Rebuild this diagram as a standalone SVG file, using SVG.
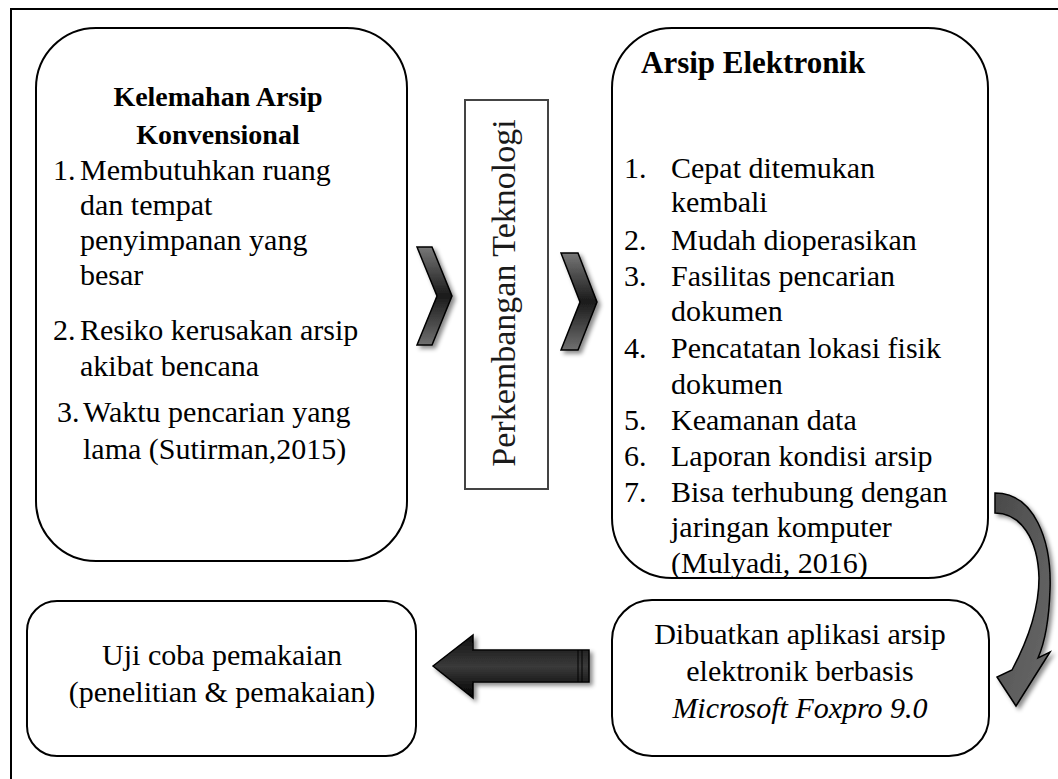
<svg xmlns="http://www.w3.org/2000/svg" width="1058" height="779" viewBox="0 0 1058 779">
<style>
.box{fill:#fff;stroke:#000;stroke-width:2}
.t{font-family:"Liberation Serif","Times New Roman",serif;font-size:30px;fill:#000}
.b{font-weight:bold;font-size:28px}
.c{text-anchor:middle}
.i{font-style:italic}
.arrow{stroke:#000;stroke-width:1.5;filter:url(#sh)}
</style>
<defs>
<filter id="sh" x="-30%" y="-30%" width="160%" height="160%">
<feDropShadow dx="3" dy="3" stdDeviation="2" flood-color="#000" flood-opacity="0.45"/>
</filter>
<linearGradient id="chev" x1="0" y1="0" x2="0" y2="1">
<stop offset="0" stop-color="#777"/>
<stop offset="0.5" stop-color="#1a1a1a"/>
<stop offset="1" stop-color="#707070"/>
</linearGradient>
<linearGradient id="blk" x1="0" y1="0" x2="0" y2="1">
<stop offset="0" stop-color="#111"/>
<stop offset="0.5" stop-color="#3a3a3a"/>
<stop offset="1" stop-color="#000"/>
</linearGradient>
<linearGradient id="curv" x1="0" y1="0" x2="1" y2="1">
<stop offset="0" stop-color="#4a4a4a"/>
<stop offset="1" stop-color="#6a6a6a"/>
</linearGradient>
</defs>

<path d="M11,779 V9 H1058" fill="none" stroke="#000" stroke-width="2"/>

<g id="kelemahan">
<rect class="box" x="36" y="28" width="371" height="533" rx="60" ry="60"/>
<text class="t b c" x="218" y="106">Kelemahan Arsip</text>
<text class="t b c" x="218" y="144">Konvensional</text>
<text class="t" x="53" y="180">1.</text><text class="t" x="80" y="180">Membutuhkan ruang</text>
<text class="t" x="80" y="215">dan tempat</text>
<text class="t" x="80" y="250">penyimpanan yang</text>
<text class="t" x="80" y="285">besar</text>
<text class="t" x="53" y="340">2.</text><text class="t" x="80" y="340">Resiko kerusakan arsip</text>
<text class="t" x="80" y="376">akibat bencana</text>
<text class="t" x="57" y="422">3.</text><text class="t" x="83" y="422">Waktu pencarian yang</text>
<text class="t" x="83" y="459">lama (Sutirman,2015)</text>
</g>

<g id="perkembangan">
<rect x="465" y="100" width="83" height="389" fill="#fff" stroke="#444" stroke-width="2"/>
<text class="t c" transform="translate(515,293) rotate(-90)" style="font-size:34px;fill:#1a1a1a">Perkembangan Teknologi</text>
</g>

<g id="elektronik">
<rect class="box" x="612" y="28" width="376" height="550" rx="60" ry="60"/>
<text class="t b" x="641" y="73" style="font-size:31px">Arsip Elektronik</text>
<text class="t" x="624" y="178">1.</text><text class="t" x="671" y="178">Cepat ditemukan</text>
<text class="t" x="671" y="212">kembali</text>
<text class="t" x="624" y="250">2.</text><text class="t" x="671" y="250">Mudah dioperasikan</text>
<text class="t" x="624" y="286">3.</text><text class="t" x="671" y="286">Fasilitas pencarian</text>
<text class="t" x="671" y="321">dokumen</text>
<text class="t" x="624" y="358">4.</text><text class="t" x="671" y="358">Pencatatan lokasi fisik</text>
<text class="t" x="671" y="394">dokumen</text>
<text class="t" x="624" y="430">5.</text><text class="t" x="671" y="430">Keamanan data</text>
<text class="t" x="624" y="466">6.</text><text class="t" x="671" y="466">Laporan kondisi arsip</text>
<text class="t" x="624" y="502">7.</text><text class="t" x="671" y="502">Bisa terhubung dengan</text>
<text class="t" x="671" y="537">jaringan komputer</text>
<text class="t" x="671" y="573">(Mulyadi, 2016)</text>
</g>

<g id="dibuatkan">
<rect class="box" x="612" y="600" width="377" height="156" rx="40" ry="40"/>
<text class="t c" x="800" y="644">Dibuatkan aplikasi arsip</text>
<text class="t c" x="800" y="681">elektronik berbasis</text>
<text class="t c i" x="800" y="718">Microsoft Foxpro 9.0</text>
</g>

<g id="ujicoba">
<rect class="box" x="27" y="601" width="389" height="155" rx="30" ry="30"/>
<text class="t c" x="222" y="665">Uji coba pemakaian</text>
<text class="t c" x="222" y="702">(penelitian &amp; pemakaian)</text>
</g>

<g id="connectors">
<polygon class="arrow" fill="url(#chev)" points="417,247 432,247 452,296 432,345 417,345 437,296"/>
<polygon class="arrow" fill="url(#chev)" points="561,253 578,253 597,302 578,350 561,350 580,302"/>
<path class="arrow" fill="url(#curv)" d="M995,493 C1034,493 1052,540 1050,590 C1049,620 1045,642 1038,658 L1050,652 L1016,706 L997,677 L1012,670 C1028,640 1039,610 1039,578 C1038,538 1020,513 995,513 Z"/>
<g>
<path class="arrow" fill="url(#blk)" d="M433,666 L473,635 L473,650 L589,650 L589,682 L473,682 L473,698 Z"/>
<line x1="578" y1="650" x2="578" y2="682" stroke="#000" stroke-width="1"/>
<line x1="582" y1="650" x2="582" y2="682" stroke="#000" stroke-width="1"/>
</g>
</g>
</svg>
